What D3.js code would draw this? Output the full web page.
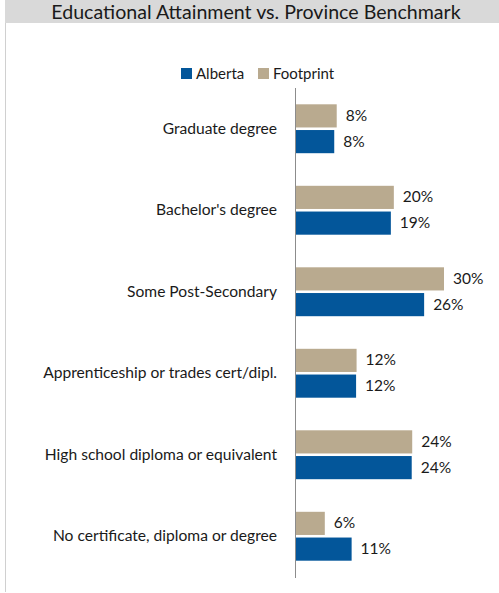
<!DOCTYPE html>
<html>
<head>
<meta charset="utf-8">
<script src="https://cdn.jsdelivr.net/npm/d3@7"></script>
<style>
  body { margin: 0; background: #fff; }
  svg { display: block; font-family: Lato, "Open Sans", sans-serif; }
</style>
</head>
<body>
<svg width="499" height="593"></svg>
<script>
var categories = ["Graduate degree", "Bachelor's degree", "Some Post-Secondary",
  "Apprenticeship or trades cert/dipl.", "High school diploma or equivalent",
  "No certificate, diploma or degree"];
var footprint = [8.4, 19.9, 30.0, 12.4, 23.6, 6.0];
var alberta = [7.9, 19.3, 26.0, 12.3, 23.5, 11.4];
var seriesNames = ["Alberta", "Footprint"];
var colors = { Alberta: "#03569a", Footprint: "#b9aa8f" };

var svg = d3.select("svg"),
  width = +svg.attr("width"),
  height = +svg.attr("height");

// title band
svg.append("rect").attr("x", 5).attr("y", 0).attr("width", width - 5).attr("height", 23)
  .attr("fill", "#d9d9d9");
svg.append("text").attr("x", 256).attr("y", 18.5)
  .attr("text-anchor", "middle").style("font-size", "19.6px").attr("fill", "#1a1a1a")
  .text("Educational Attainment vs. Province Benchmark");

// left border
svg.append("line").attr("x1", 5.5).attr("x2", 5.5).attr("y1", 23).attr("y2", 592)
  .attr("stroke", "#d0d0d0");

var x0 = 295;
var x = d3.scaleLinear().domain([0, 30]).range([x0, x0 + 149]);
var y = d3.scaleBand().domain(categories).range([88, 577]).paddingInner(0.4).paddingOuter(0.2);
var sub = d3.scaleBand().domain(["Footprint", "Alberta"]).range([0, y.bandwidth()]).paddingInner(0.1);

var data = categories.map(function(c, i) {
  return { cat: c, vals: [{ s: "Footprint", v: footprint[i] }, { s: "Alberta", v: alberta[i] }] };
});

var groups = svg.append("g").selectAll("g").data(data).enter().append("g")
  .attr("transform", function(d) { return "translate(0," + y(d.cat) + ")"; });

groups.selectAll("rect").data(function(d) { return d.vals; }).enter().append("rect")
  .attr("x", x(0))
  .attr("y", function(d) { return sub(d.s); })
  .attr("width", function(d) { return x(d.v) - x(0); })
  .attr("height", sub.bandwidth())
  .attr("fill", function(d) { return colors[d.s]; });

groups.selectAll("text.val").data(function(d) { return d.vals; }).enter().append("text")
  .attr("class", "val")
  .attr("x", function(d) { return x(d.v) + 9; })
  .attr("y", function(d) { return sub(d.s) + sub.bandwidth() / 2 + 5; })
  .style("font-size", "15.5px").attr("fill", "#1a1a1a")
  .text(function(d) { return Math.round(d.v) + "%"; });

groups.append("text")
  .attr("x", 277)
  .attr("y", y.bandwidth() / 2 + 5)
  .attr("text-anchor", "end")
  .style("font-size", "15.6px").attr("fill", "#1a1a1a")
  .text(function(d) { return d.cat; });

// axis line
svg.append("line").attr("x1", x0 + 0.5).attr("x2", x0 + 0.5).attr("y1", 88).attr("y2", 578)
  .attr("stroke", "#8c8c8c");

// legend
var legend = svg.append("g").attr("transform", "translate(181,68)");
var lx = [0, 77];
seriesNames.forEach(function(s, i) {
  legend.append("rect").attr("x", lx[i]).attr("y", 0).attr("width", 11).attr("height", 11)
    .attr("fill", colors[s]);
  legend.append("text").attr("x", lx[i] + 15).attr("y", 10.5)
    .style("font-size", "15px").attr("fill", "#1a1a1a").text(s);
});
</script>
</body>
</html>
